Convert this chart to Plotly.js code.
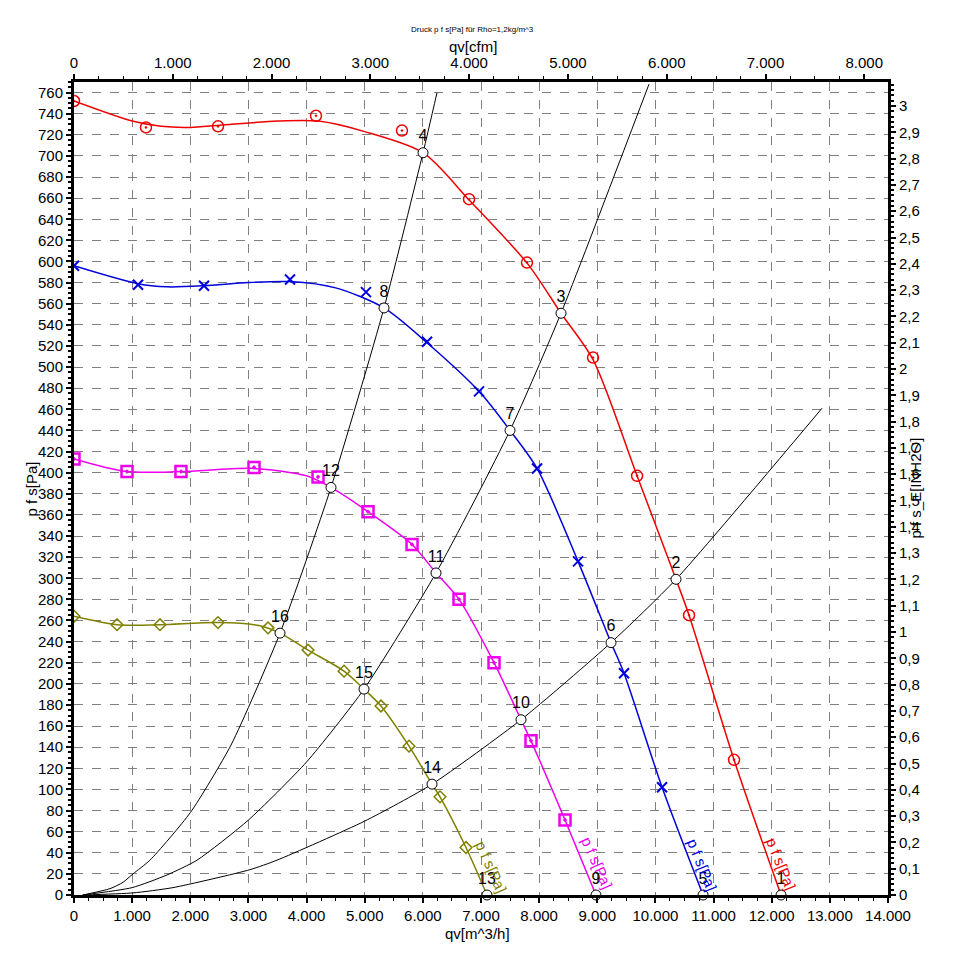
<!DOCTYPE html>
<html>
<head>
<meta charset="utf-8">
<script src="https://cdn.plot.ly/plotly-3.0.1.min.js"></script>
<style>html,body{margin:0;padding:0;background:#fff;}#chart{width:956px;height:969px;}</style>
</head>
<body>
<div id="chart"></div>
<script>
// ---- Fan curves: measured markers (qv [m^3/h], p f s [Pa]) ----
const redMarkX = [0, 1238, 2477, 4162, 5641, 6794, 7791, 8927, 9684, 10578, 11352];
const redMarkY = [752, 727, 728, 738, 724, 659, 599, 509, 397, 265, 128];
const redLineX = [0, 1000, 1500, 2000, 2500, 3500, 4200, 5000, 6003, 6800, 7800, 8376, 8927, 9684, 10354, 10578, 11352, 12160];
const redLineY = [752, 733, 728, 727, 729, 733, 733, 723, 703, 658, 598, 551, 507, 397, 299, 265, 128, 0];

const blueMarkX = [0, 1101, 2236, 3715, 5022, 6072, 6966, 7964, 8669, 9460, 10114];
const blueMarkY = [596, 578, 577, 583, 571, 524, 477, 404, 316, 210, 102];
const blueLineX = [0, 1100, 1600, 2236, 3000, 3715, 4500, 5332, 6072, 6966, 7499, 7964, 8669, 9236, 9460, 10114, 10819];
const blueLineY = [596, 579, 576, 577, 580, 581, 575, 556, 523, 477, 440, 404, 316, 239, 210, 102, 0];

const magMarkX = [0, 912, 1840, 3096, 4197, 5057, 5814, 6622, 7224, 7860, 8445];
const magMarkY = [413, 401, 401, 405, 396, 363, 332, 280, 220, 146, 71];
const magLineX = [0, 912, 1840, 3096, 4000, 4420, 5057, 5814, 6226, 6622, 7224, 7688, 7860, 8445, 8978];
const magLineY = [413, 401, 401, 404, 397, 386, 363, 332, 305, 280, 220, 166, 146, 71, 0];

const oliMarkX = [0, 740, 1479, 2477, 3337, 4025, 4644, 5280, 5762, 6295, 6742];
const oliMarkY = [264, 256, 256, 258, 253, 232, 212, 179, 141, 93, 45];
const oliLineX = [0, 740, 1479, 2477, 3200, 3543, 4025, 4644, 4988, 5280, 5762, 6158, 6295, 6742, 7103];
const oliLineY = [264, 256, 256, 258, 255, 248, 232, 212, 195, 179, 141, 105, 93, 45, 0];

// ---- System (resistance) curves ----
const sysAX = [150, 619, 843, 1015, 1307, 2000, 2700, 3543, 4420, 5332, 6003, 6244];
const sysAY = [0, 6, 12, 20, 33, 78, 142, 248, 386, 556, 703, 760];
const sysBX = [150, 1000, 1600, 2116, 3000, 4000, 4988, 6226, 7499, 8376, 9890];
const sysBY = [0, 7, 19, 33, 71, 126, 195, 305, 440, 551, 768];
const sysCX = [150, 1015, 1703, 3027, 3492, 5000, 6158, 7688, 9236, 10354, 12865];
const sysCY = [0, 2, 7, 24, 33, 70, 105, 166, 239, 299, 461];

// ---- Operating points ----
const opX = [12160, 10354, 8376, 6003, 10819, 9236, 7499, 5332, 8978, 7688, 6226, 4420, 7103, 6158, 4988, 3543];
const opY = [0, 299, 551, 703, 0, 239, 440, 556, 0, 166, 305, 386, 0, 105, 195, 248];
const opLabels = ['1','2','3','4','5','6','7','8','9','10','11','12','13','14','15','16'];

const seriesLabel = 'p f s[Pa]';
const titleText = 'Druck p f s[Pa] für Rho=1,2kg/m^3';

const RED = '#EE0000', BLUE = '#0000DD', MAG = '#EE00EE', OLI = '#808000';
const FONT = 'Liberation Sans, Arial, sans-serif';

function lineTrace(x, y, color) {
  return {x: x, y: y, mode: 'lines', type: 'scatter', line: {color: color, width: 1.5, shape: 'spline', smoothing: 0.8}, hoverinfo: 'skip', showlegend: false};
}
function markTrace(x, y, color, symbol, size, lw) {
  return {x: x, y: y, mode: 'markers', type: 'scatter', marker: {color: color, symbol: symbol, size: size, line: {color: color, width: lw}}, hoverinfo: 'skip', showlegend: false};
}
function sysTrace(x, y) {
  return {x: x, y: y, mode: 'lines', type: 'scatter', line: {color: '#000', width: 1, shape: 'spline', smoothing: 0.6}, hoverinfo: 'skip', showlegend: false};
}

const traces = [
  sysTrace(sysAX, sysAY), sysTrace(sysBX, sysBY), sysTrace(sysCX, sysCY),
  lineTrace(redLineX, redLineY, RED), lineTrace(blueLineX, blueLineY, BLUE),
  lineTrace(magLineX, magLineY, MAG), lineTrace(oliLineX, oliLineY, OLI),
  markTrace(redMarkX, redMarkY, RED, 'circle-open-dot', 11, 1.5),
  markTrace(blueMarkX, blueMarkY, BLUE, 'x-thin-open', 10, 2),
  markTrace(magMarkX, magMarkY, MAG, 'square-open-dot', 11, 2.5),
  markTrace(oliMarkX, oliMarkY, OLI, 'diamond-open', 9, 1.5),
  {x: opX, y: opY, mode: 'markers+text', type: 'scatter', text: opLabels, textposition: 'top center',
   textfont: {family: FONT, size: 16, color: '#000'}, cliponaxis: false,
   marker: {symbol: 'circle', size: 10, color: '#fff', line: {color: '#000', width: 1}}, hoverinfo: 'skip', showlegend: false},
  {x: [0], y: [0], xaxis: 'x2', yaxis: 'y2', mode: 'markers', type: 'scatter', marker: {opacity: 0}, hoverinfo: 'skip', showlegend: false}
];

const tickFont = {family: FONT, size: 15, color: '#000'};
const baseAxis = {
  showline: true, linecolor: '#000', linewidth: 3, ticks: 'outside', ticklen: 5, tickwidth: 2, tickcolor: '#000',
  zeroline: false, tickfont: tickFont, fixedrange: true
};

function paperNote(text, x, y, size, angle) {
  return {text: text, xref: 'paper', yref: 'paper', x: x, y: y, xanchor: 'center', yanchor: 'middle',
          textangle: angle || 0, showarrow: false, font: {family: FONT, size: size, color: '#000'}};
}
function curveNote(x, y, angle, color) {
  return {text: seriesLabel, xref: 'x', yref: 'y', x: x, y: y, xanchor: 'center', yanchor: 'middle',
          textangle: angle, showarrow: false, font: {family: FONT, size: 15, color: color}};
}

const layout = {
  width: 956, height: 969,
  margin: {l: 74, r: 68, t: 82, b: 74},
  paper_bgcolor: '#fff', plot_bgcolor: '#fff',
  separators: ',.',
  showlegend: false,
  xaxis: Object.assign({}, baseAxis, {
    range: [0, 14000], tickmode: 'linear', tick0: 0, dtick: 1000, tickformat: ',d',
    showgrid: true, gridcolor: '#808080', griddash: 'dash', gridwidth: 1,
    minor: {tickmode: 'linear', tick0: 0, dtick: 250, ticks: 'outside', ticklen: 3, tickwidth: 1, tickcolor: '#000', showgrid: false}
  }),
  yaxis: Object.assign({}, baseAxis, {
    range: [0, 770], tickmode: 'linear', tick0: 0, dtick: 20,
    showgrid: true, gridcolor: '#808080', griddash: 'dash', gridwidth: 1,
    minor: {tickmode: 'linear', tick0: 0, dtick: 5, ticks: 'outside', ticklen: 3, tickwidth: 2, tickcolor: '#000', showgrid: false}
  }),
  xaxis2: Object.assign({}, baseAxis, {
    overlaying: 'x', side: 'top', anchor: 'y',
    range: [0, 14000 / 1.69901], tickmode: 'linear', tick0: 0, dtick: 1000, tickformat: ',d', showgrid: false,
    minor: {tickmode: 'linear', tick0: 0, dtick: 250, ticks: 'outside', ticklen: 3, tickwidth: 1, tickcolor: '#000', showgrid: false}
  }),
  yaxis2: Object.assign({}, baseAxis, {
    overlaying: 'y', side: 'right', anchor: 'x',
    range: [0, 770 / 249.089], tickmode: 'linear', tick0: 0, dtick: 0.1, tickformat: '.1~f', showgrid: false,
    minor: {tickmode: 'linear', tick0: 0, dtick: 0.02, ticks: 'outside', ticklen: 3, tickwidth: 2, tickcolor: '#000', showgrid: false}
  }),
  annotations: [
    paperNote(titleText, 0.49, 1.065, 8),
    paperNote('qv[cfm]', 0.49, 1.0435, 15),
    paperNote('qv[m^3/h]', 0.496, -0.047, 15),
    paperNote('p f s[Pa]', -0.0516, 0.50, 15, -90),
    paperNote('p f s_E[INH2O]', 1.0332, 0.50, 15, -90),
    curveNote(12160, 30, 68, RED),
    curveNote(10801, 29, 68, BLUE),
    curveNote(8995, 31, 66, MAG),
    curveNote(7172, 27, 66, OLI)
  ]
};

Plotly.newPlot('chart', traces, layout, {staticPlot: true, displayModeBar: false});
</script>
</body>
</html>
